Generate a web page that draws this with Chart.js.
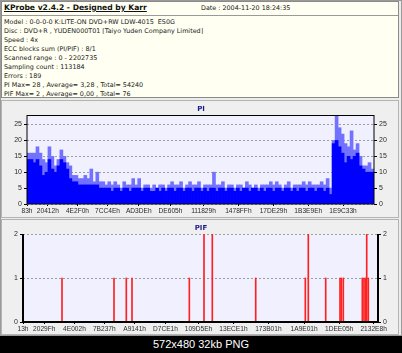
<!DOCTYPE html>
<html>
<head>
<meta charset="utf-8">
<script src="https://cdn.jsdelivr.net/npm/chart.js@4.4.0/dist/chart.umd.min.js"></script>
<style>
  html, body { margin: 0; padding: 0; background: #000; }
  #page { position: relative; width: 402px; height: 353px; overflow: hidden; background: #000; font-family: 'DejaVu Sans', Verdana, sans-serif; }
  #frame { position: absolute; left: 0; top: 0; width: 400px; height: 334px; background: #ececec; border: 1px solid #9a9a9a; }
  #info { position: absolute; left: 1px; top: 1px; width: 398px; height: 97px; background: #fffff2; border: 1px solid #8a8a8a; box-sizing: border-box; color: #222; font-size: 6.4px; }
  #info .head { position: absolute; left: 0; top: 0; width: 100%; height: 13px; border-bottom: 1px solid #9a9a9a; }
  #info .brand { position: absolute; left: 2px; top: 1px; font-size: 7.6px; font-weight: bold; text-decoration: underline; color: #111; }
  #info .date { position: absolute; left: 199px; top: 2px; }
  #info .lines { position: absolute; left: 2px; top: 16px; line-height: 9.05px; white-space: pre; }
  .panel { position: absolute; left: 1px; width: 398px; background: #efefef; border: 1px solid #b4b4b4; box-sizing: border-box; }
  canvas { position: absolute; left: 0; }
  #caption { position: absolute; left: 0; top: 336px; width: 402px; height: 17px; color: #fff; font-family: 'Liberation Sans', Arial, sans-serif; font-size: 11px; line-height: 17px; text-align: center; }
</style>
</head>
<body>
<div id="page">
  <div id="frame"></div>
  <div id="info">
    <div class="head">
      <span class="brand">KProbe v2.4.2 - Designed by Karr</span>
      <span class="date">Date : 2004-11-20 18:24:35</span>
    </div>
    <div class="lines">Model : 0-0-0-0 K:LITE-ON DVD+RW LDW-4015  ES0G
Disc : DVD+R , YUDEN000T01 [Taiyo Yuden Company Limited]
Speed : 4x
ECC blocks sum (PI/PIF) : 8/1
Scanned range : 0 - 2202735
Sampling count : 113184
Errors : 189
PI Max= 28 , Average= 3,28 , Total= 54240
PIF Max= 2 , Average= 0,00 , Total= 76</div>
  </div>
  <div class="panel" style="top:100px;height:118px;"></div>
  <div class="panel" style="top:219px;height:116px;"></div>
  <canvas id="pi-chart" width="402" height="118" style="top:100px;"></canvas>
  <canvas id="pif-chart" width="402" height="117" style="top:219px;"></canvas>
  <div id="caption">572x480 32kb PNG</div>
</div>

<script>
// scanned LBA range
const scanEnd = 2202735;

// PI samples, left to right (solid level and spike tops)
const piBase = [
  14, 14, 13, 14, 12, 9, 10, 14, 11, 10, 12, 14, 13, 11, 8, 7, 7, 6, 6, 6, 6, 6, 6, 6, 5, 5,
  5, 5, 4, 5, 5, 4, 5, 5, 4, 5, 5, 5, 4, 5, 5, 4, 4, 5, 4, 5, 4, 5, 5, 4,
  5, 5, 4, 5, 5, 4, 5, 5, 4, 5, 4, 5, 5, 4, 5, 5, 4, 5, 5, 4, 5, 4, 5, 5,
  4, 5, 5, 4, 5, 4, 5, 5, 4, 5, 5, 4, 5, 5, 4, 5, 4, 5, 5, 4, 5, 5, 4, 5, 5, 4, 5, 3,
  19, 20, 18, 16, 13, 15, 14, 15, 16, 12, 11, 10, 10, 10
];
const piPeak = [
  16, 16, 16, 18, 16, 14, 13, 18, 15, 12, 14, 17, 15, 13, 12, 9, 9, 8, 8, 9, 8, 11, 7, 10, 7, 7,
  6, 7, 6, 7, 6, 5, 7, 6, 6, 8, 6, 8, 5, 6, 6, 5, 6, 5, 6, 6, 5, 6, 7, 6,
  6, 7, 5, 6, 7, 6, 6, 7, 5, 6, 6, 6, 10, 6, 6, 7, 5, 6, 6, 5, 6, 6, 5, 7,
  6, 5, 6, 5, 6, 6, 6, 7, 6, 7, 6, 5, 6, 7, 5, 6, 6, 6, 7, 6, 7, 6, 6, 6, 7, 6, 8, 5,
  20, 28, 24, 22, 19, 18, 23, 17, 19, 15, 12, 12, 13, 11
];
const piTickLabels = ['83h', '20412h', '4E2F0h', '7CC4Eh', 'AD3DEh', 'DE605h', '111829h', '1478FFh', '17DE29h', '1B3E9Eh', '1E9C33h'];
const piYTicks = [0, 5, 10, 15, 20, 25];

// PIF hits: LBA position and count
const pifLba = [242000, 564700, 641000, 676300, 1032000, 1123100, 1174600, 1444000, 1751700, 1770300,
  1878300, 1967000, 1975000, 1987500, 2105400, 2115900, 2126500, 2132700, 2142600];
const pifCount = [1, 1, 1, 1, 1, 2, 2, 1, 1, 2, 1, 1, 1, 1, 1, 1, 1, 2, 1];
const pifTickLabels = ['13h', '2029Fh', '4E002h', '7B237h', 'A9141h', 'D7CE1h', '109D5Eh', '13ECE1h', '173B01h', '1A9E01h', '1DEE05h', '2132E8h'];

const FONT = { family: "'Liberation Sans', Arial, sans-serif", size: 6.6 };
const TXT = '#2a2a2a';

// plot background + border lines
const plotFrame = {
  id: 'plotFrame',
  beforeDraw(chart, args, o) {
    const { ctx, chartArea: a } = chart;
    ctx.save();
    ctx.fillStyle = o.fill;
    ctx.fillRect(a.left, a.top, a.width, a.height);
    ctx.restore();
  },
  afterDatasetsDraw(chart, args, o) {
    const { ctx, chartArea: a } = chart;
    ctx.save();
    ctx.strokeStyle = '#000';
    const line = (w, x1, y1, x2, y2) => {
      if (!w) return;
      ctx.lineWidth = w;
      ctx.beginPath(); ctx.moveTo(x1, y1); ctx.lineTo(x2, y2); ctx.stroke();
    };
    line(o.top, a.left, a.top + 0.5, a.right, a.top + 0.5);
    line(o.bottom, a.left, a.bottom, a.right, a.bottom);
    line(o.left, a.left, a.top, a.left, a.bottom);
    line(o.right, a.right, a.top, a.right, a.bottom);
    ctx.restore();
  }
};

const hexTicks = labels => scale => {
  scale.ticks = labels.map(l => ({ value: parseInt(l, 16), label: l }));
};

function yAxis(pos, width, max, ticks, onArea) {
  return {
    type: 'linear', position: pos, min: 0, max: max,
    afterBuildTicks: s => { s.ticks = ticks.map(v => ({ value: v })); },
    afterFit: s => { s.width = width; },
    border: { display: false, dash: [2, 2] },
    grid: { color: '#9c9c9c', drawOnChartArea: onArea, tickLength: 3, tickColor: '#000', tickBorderDash: [] },
    ticks: { font: { family: FONT.family, size: 7 }, color: TXT, padding: 2 }
  };
}

function xAxis(labels) {
  return {
    type: 'linear', position: 'bottom', min: 0, max: scanEnd,
    offset: false,
    afterBuildTicks: hexTicks(labels),
    afterFit: s => { s.height = 14; },
    border: { display: false },
    grid: { offset: false, drawOnChartArea: false, tickLength: 2, tickColor: '#000' },
    ticks: { font: FONT, color: TXT, padding: 1, autoSkip: false, maxRotation: 0, callback: (v, i) => labels[i] }
  };
}

function titleOpts(text) {
  return {
    display: true, text: text, color: '#1c1c86',
    font: { family: "'DejaVu Sans', Verdana, sans-serif", size: 7, weight: 'bold' },
    padding: { top: 5, bottom: 1.6 }
  };
}

new Chart(document.getElementById('pi-chart'), {
  type: 'bar',
  data: {
    labels: piBase.map((_, i) => i),
    datasets: [
      { label: 'PI', data: piBase, backgroundColor: '#0000ff', xAxisID: 'x', yAxisID: 'y' },
      { label: 'PI peak', data: piPeak, backgroundColor: '#7272ff', xAxisID: 'x', yAxisID: 'y' }
    ]
  },
  options: {
    responsive: false,
    animation: false,
    events: [],
    grouped: false,
    barPercentage: 1,
    categoryPercentage: 1,
    layout: { padding: 0 },
    plugins: {
      legend: { display: false },
      tooltip: { enabled: false },
      title: titleOpts('PI'),
      plotFrame: { fill: '#f0f0ff', top: 1, bottom: 1, left: 1, right: 1 }
    },
    scales: {
      x: { type: 'category', display: false },
      lba: xAxis(piTickLabels),
      y: yAxis('left', 27, 28, piYTicks, true),
      y2: yAxis('right', 28, 28, piYTicks, false)
    }
  },
  plugins: [plotFrame]
});

new Chart(document.getElementById('pif-chart'), {
  type: 'bar',
  data: {
    datasets: [{
      label: 'PIF',
      data: pifLba.map((lba, i) => ({ x: lba, y: pifCount[i] })),
      backgroundColor: '#ff2020',
      barThickness: 1
    }]
  },
  options: {
    responsive: false,
    animation: false,
    events: [],
    layout: { padding: 0 },
    plugins: {
      legend: { display: false },
      tooltip: { enabled: false },
      title: titleOpts('PIF'),
      plotFrame: { fill: '#f0f0ff', top: 0, bottom: 2, left: 2, right: 2 }
    },
    scales: {
      x: xAxis(pifTickLabels),
      y: yAxis('left', 23, 2, [0, 1, 2], true),
      y2: yAxis('right', 24, 2, [0, 1, 2], false)
    }
  },
  plugins: [plotFrame]
});
</script>
</body>
</html>
